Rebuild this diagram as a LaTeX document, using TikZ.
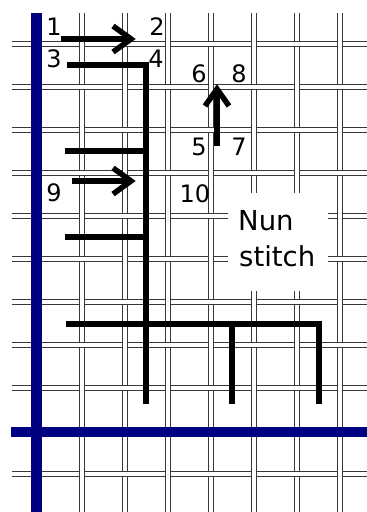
\documentclass[tikz,border=0pt]{standalone}
\usepackage{fontspec}
\setmainfont{DejaVu Sans}
\definecolor{navyb}{RGB}{0,0,128}
\begin{document}
\begin{tikzpicture}[x=1pt,y=-1pt,
  thread/.style={draw=black!78, line width=1.4pt, double=white, double distance=3.6pt},
  stitch/.style={line width=5.5pt, line join=miter, line cap=butt},
  blueline/.style={draw=navyb, line width=11pt},
  num/.style={font=\fontsize{24}{26}\selectfont, inner sep=0pt, anchor=base},
  lbl/.style={font=\fontsize{27.5}{30}\selectfont, inner sep=0pt, anchor=base west}]
\useasboundingbox (0,0) rectangle (367,512);
% mesh threads
\foreach \i in {0,...,7} {
  \pgfmathsetmacro\xx{39+43*\i}
  \draw[thread] (\xx,13) -- (\xx,512);
}
\foreach \j in {0,...,10} {
  \pgfmathsetmacro\yy{44+43*\j}
  \draw[thread] (12,\yy) -- (367,\yy);
}
% weave: vertical over at odd crossings
\foreach \i in {0,...,7} {
  \foreach \j in {0,...,10} {
    \pgfmathtruncatemacro\odd{mod(\i+\j,2)}
    \ifnum\odd=1
      \pgfmathsetmacro\xx{39+43*\i}
      \pgfmathsetmacro\yy{44+43*\j}
      \draw[thread] (\xx,\yy-6) -- (\xx,\yy+6);
    \fi
  }
}
% blue lines
\draw[blueline] (36,13) -- (36,512);
\draw[draw=navyb, line width=10pt] (11,432) -- (367,432);
% label box
\node (box) [fill=white, inner sep=0pt, minimum width=100pt, minimum height=98pt] at (278,242) {};
% stitches
\draw[stitch] (61,39) -- (130,39);
\draw[stitch] (113,26) -- (131,39) -- (113,52);
\draw[stitch] (67,65) -- (146,65) -- (146,404);
\draw[stitch] (217,146) -- (217,91);
\draw[stitch] (205,106) -- (217,89) -- (229,106);
\draw[stitch] (65,151) -- (146,151);
\draw[stitch] (72,181) -- (130,181);
\draw[stitch] (113,168) -- (131,181) -- (113,194);
\draw[stitch] (65,237) -- (146,237);
\draw[stitch] (66,324) -- (319,324) -- (319,404);
\draw[stitch] (232,324) -- (232,404);
% numbers
\node (n1) [num] at (54,35) {1};
\node (n2) [num] at (157,35) {2};
\node (n3) [num] at (54,67) {3};
\node (n4) [num] at (156,67) {4};
\node (n6) [num] at (199,82) {6};
\node (n8) [num] at (239,82) {8};
\node (n5) [num] at (199,155) {5};
\node (n7) [num] at (239,155) {7};
\node (n9) [num] at (54,201) {9};
\node (n10) [num] at (195,202) {10};
% label text
\node (nun) [lbl] at (238,230) {Nun};
\node (stitch) [lbl] at (239,266) {stitch};
\end{tikzpicture}
\end{document}
